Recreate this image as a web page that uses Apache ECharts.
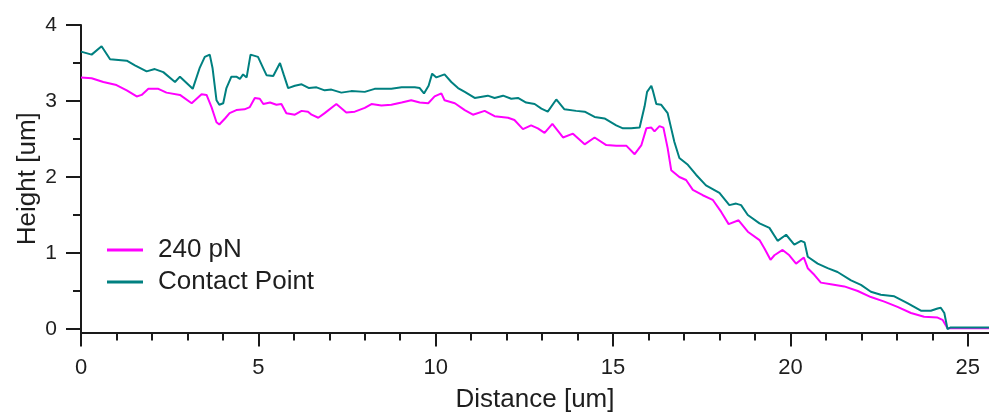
<!DOCTYPE html>
<html>
<head>
<meta charset="utf-8">
<script src="https://cdn.jsdelivr.net/npm/echarts@6/dist/echarts.min.js"></script>
<style>
html,body{margin:0;padding:0;background:#fff;}
#chart{width:989px;height:415px;}
</style>
</head>
<body>
<div id="chart"></div>
<script>
// ---- data ----
var seriesNames = ['240 pN', 'Contact Point'];

var distancePN = [0, 0.30, 0.63, 1.00, 1.29, 1.57, 1.71, 1.90, 2.18, 2.41, 2.79, 3.12, 3.40, 3.54, 3.68, 3.82, 3.90, 4.06, 4.19, 4.38, 4.61, 4.76, 4.90, 5.04, 5.14, 5.33, 5.51, 5.65, 5.79, 6.03, 6.22, 6.40, 6.50, 6.69, 6.87, 7.20, 7.48, 7.72, 8.00, 8.19, 8.47, 8.75, 9.04, 9.31, 9.55, 9.79, 9.97, 10.16, 10.25, 10.54, 10.82, 11.05, 11.38, 11.66, 12.04, 12.22, 12.46, 12.69, 12.88, 13.07, 13.29, 13.59, 13.87, 14.20, 14.48, 14.81, 15.09, 15.38, 15.61, 15.80, 15.94, 16.08, 16.17, 16.31, 16.42, 16.54, 16.64, 16.87, 17.06, 17.25, 17.53, 17.81, 18.05, 18.26, 18.54, 18.80, 19.13, 19.27, 19.44, 19.55, 19.78, 19.97, 20.16, 20.38, 20.49, 20.68, 20.86, 21.14, 21.52, 21.90, 22.27, 22.65, 23.02, 23.40, 23.77, 24.15, 24.29, 24.43, 25.6];
var heightPN = [3.31, 3.30, 3.25, 3.21, 3.14, 3.06, 3.08, 3.16, 3.16, 3.11, 3.08, 2.97, 3.09, 3.08, 2.92, 2.72, 2.69, 2.77, 2.84, 2.88, 2.89, 2.92, 3.04, 3.03, 2.96, 2.98, 2.95, 2.96, 2.84, 2.82, 2.87, 2.86, 2.82, 2.78, 2.84, 2.96, 2.85, 2.86, 2.91, 2.96, 2.94, 2.95, 2.98, 3.01, 2.98, 2.97, 3.06, 3.10, 3.01, 2.97, 2.88, 2.82, 2.87, 2.80, 2.78, 2.75, 2.63, 2.68, 2.64, 2.58, 2.70, 2.52, 2.57, 2.43, 2.52, 2.42, 2.41, 2.41, 2.30, 2.42, 2.64, 2.65, 2.60, 2.67, 2.65, 2.38, 2.09, 2.00, 1.96, 1.83, 1.76, 1.70, 1.54, 1.38, 1.43, 1.28, 1.17, 1.06, 0.91, 0.97, 1.04, 0.97, 0.86, 0.94, 0.80, 0.71, 0.61, 0.59, 0.56, 0.50, 0.42, 0.36, 0.29, 0.21, 0.16, 0.15, 0.12, 0.01, 0.01];

var distanceCP = [0, 0.30, 0.58, 0.82, 1.29, 1.52, 1.85, 2.08, 2.32, 2.65, 2.79, 3.15, 3.35, 3.49, 3.63, 3.71, 3.82, 3.90, 4.01, 4.10, 4.24, 4.38, 4.48, 4.57, 4.67, 4.78, 4.99, 5.14, 5.23, 5.42, 5.61, 5.72, 5.84, 6.03, 6.22, 6.43, 6.64, 6.87, 7.06, 7.34, 7.62, 8.00, 8.28, 8.75, 9.04, 9.41, 9.55, 9.67, 9.80, 9.90, 10.02, 10.25, 10.44, 10.63, 10.82, 11.10, 11.47, 11.66, 11.90, 12.13, 12.32, 12.55, 12.79, 12.98, 13.16, 13.40, 13.63, 13.96, 14.20, 14.48, 14.76, 15.09, 15.28, 15.51, 15.75, 15.89, 15.96, 16.08, 16.12, 16.22, 16.36, 16.54, 16.64, 16.73, 16.87, 17.11, 17.34, 17.62, 18.00, 18.28, 18.47, 18.61, 18.80, 19.13, 19.41, 19.64, 19.88, 20.11, 20.30, 20.40, 20.49, 20.77, 21.05, 21.33, 21.71, 21.99, 22.27, 22.55, 22.93, 23.30, 23.68, 23.96, 24.15, 24.24, 24.34, 24.43, 24.52, 25.6];
var heightCP = [3.65, 3.61, 3.72, 3.55, 3.53, 3.47, 3.39, 3.42, 3.38, 3.25, 3.32, 3.16, 3.44, 3.58, 3.61, 3.43, 3.01, 2.95, 2.97, 3.17, 3.32, 3.32, 3.29, 3.35, 3.31, 3.61, 3.58, 3.43, 3.34, 3.33, 3.50, 3.34, 3.17, 3.20, 3.22, 3.17, 3.18, 3.14, 3.15, 3.11, 3.13, 3.12, 3.16, 3.16, 3.18, 3.18, 3.17, 3.10, 3.20, 3.36, 3.31, 3.35, 3.25, 3.17, 3.12, 3.04, 3.07, 3.04, 3.07, 3.03, 3.04, 2.98, 2.96, 2.90, 2.86, 3.02, 2.89, 2.87, 2.86, 2.79, 2.77, 2.68, 2.64, 2.64, 2.65, 2.93, 3.12, 3.20, 3.14, 2.96, 2.95, 2.84, 2.64, 2.46, 2.25, 2.16, 2.03, 1.89, 1.79, 1.63, 1.65, 1.63, 1.50, 1.39, 1.33, 1.16, 1.24, 1.11, 1.16, 1.14, 0.95, 0.86, 0.80, 0.75, 0.64, 0.58, 0.49, 0.45, 0.43, 0.34, 0.24, 0.24, 0.27, 0.28, 0.21, 0.00, 0.02, 0.02];

var xMajorTicks = [0, 5, 10, 15, 20, 25];
var xMinorTicks = [1, 2, 3, 4, 6, 7, 8, 9, 11, 12, 13, 14, 16, 17, 18, 19, 21, 22, 23, 24];
var yMajorTicks = [0, 1, 2, 3, 4];
var yMinorTicks = [0.5, 1.5, 2.5, 3.5];

function pairs(xs, ys) { return xs.map(function (x, i) { return [x, ys[i]]; }); }

var FONT = '"Liberation Sans", Arial, sans-serif';
var TXT = '#1e1e1e';
var AX = '#1a1a1a';

var chart = echarts.init(document.getElementById('chart'), null, { renderer: 'canvas' });
chart.setOption({
  animation: false,
  backgroundColor: '#ffffff',
  textStyle: { fontFamily: FONT },
  grid: { left: 81, right: 0, top: 25, bottom: 82.6, containLabel: false, outerBoundsMode: 'none' },
  legend: {
    data: seriesNames,
    orient: 'vertical',
    left: 102,
    top: 232,
    icon: 'rect',
    itemWidth: 36,
    itemHeight: 3,
    itemGap: 6,
    textStyle: { fontSize: 26, color: TXT, fontFamily: FONT, padding: [0, 0, 0, 10], lineHeight: 26 }
  },
  xAxis: [{
    type: 'value', min: 0, max: 25.6,
    name: 'Distance [um]', nameLocation: 'middle', nameGap: 54, nameMoveOverlap: false,
    nameTextStyle: { fontSize: 26, color: TXT, fontFamily: FONT },
    axisLine: { onZero: false, lineStyle: { color: AX, width: 2 } },
    axisTick: { customValues: xMajorTicks, length: 14, lineStyle: { color: AX, width: 2 } },
    axisLabel: { customValues: xMajorTicks, fontSize: 22, color: TXT, margin: 25, fontFamily: FONT },
    splitLine: { show: false }
  }, {
    type: 'value', min: 0, max: 25.6, position: 'bottom',
    axisLine: { show: false, onZero: false },
    axisTick: { customValues: xMinorTicks, length: 8, lineStyle: { color: AX, width: 2 } },
    axisLabel: { show: false },
    splitLine: { show: false }
  }],
  yAxis: [{
    type: 'value', min: -0.045, max: 4,
    name: 'Height [um]', nameLocation: 'middle', nameGap: 40, nameMoveOverlap: false,
    nameTextStyle: { fontSize: 26, color: TXT, fontFamily: FONT },
    axisLine: { show: true, onZero: false, lineStyle: { color: AX, width: 2 } },
    axisTick: { show: true, customValues: yMajorTicks, length: 15, lineStyle: { color: AX, width: 2 } },
    axisLabel: { customValues: yMajorTicks, fontSize: 21, color: TXT, margin: 24, fontFamily: FONT },
    splitLine: { show: false }
  }, {
    type: 'value', min: -0.045, max: 4, position: 'left',
    axisLine: { show: false, onZero: false },
    axisTick: { show: true, customValues: yMinorTicks, length: 8, lineStyle: { color: AX, width: 2 } },
    axisLabel: { show: false },
    splitLine: { show: false }
  }],
  series: [{
    name: seriesNames[0], type: 'line', xAxisIndex: 0, yAxisIndex: 0,
    data: pairs(distancePN, heightPN),
    symbol: 'none', color: '#ff00ff',
    lineStyle: { color: '#ff00ff', width: 2 }
  }, {
    name: seriesNames[1], type: 'line', xAxisIndex: 0, yAxisIndex: 0,
    data: pairs(distanceCP, heightCP),
    symbol: 'none', color: '#008080',
    lineStyle: { color: '#008080', width: 2 }
  }]
});
</script>
</body>
</html>
